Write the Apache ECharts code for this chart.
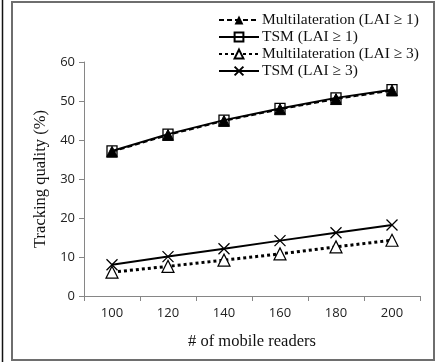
<!DOCTYPE html>
<html><head><meta charset="utf-8">
<script src="https://cdn.jsdelivr.net/npm/echarts@6/dist/echarts.min.js"></script>
<style>html,body{margin:0;padding:0;background:#fff}#c{width:436px;height:362px}</style>
</head><body><div id="c"></div>
<script>
const categories = ['100','120','140','160','180','200'];
const multiLAI1 = [37.0, 41.3, 44.9, 47.9, 50.5, 52.7];
const tsmLAI1 = [37.2, 41.5, 45.1, 48.1, 50.8, 52.9];
const multiLAI3 = [6.1, 7.6, 9.2, 10.8, 12.6, 14.3];
const tsmLAI3 = [8.0, 10.1, 12.1, 14.2, 16.2, 18.2];
const seriesNames = ['Multilateration (LAI \u2265 1)','TSM (LAI \u2265 1)','Multilateration (LAI \u2265 3)','TSM (LAI \u2265 3)'];

const chart = echarts.init(document.getElementById('c'), null, {renderer:'canvas'});
const serif = 'Liberation Serif';
const sans = 'Open Sans';
const axisGray = '#868686';
chart.setOption({
  animation:false,
  backgroundColor:'#fff',
  grid:{left:84, right:16, top:62, bottom:66, containLabel:false},
  legend:{
    orient:'vertical', left:213, top:7, itemWidth:40, itemHeight:11, itemGap:1,
    textStyle:{fontFamily:serif, fontSize:15.5, lineHeight:16, color:'#111', padding:[0,0,0,-2]},
    data: seriesNames
  },
  xAxis:{
    type:'category', data:categories, boundaryGap:true,
    name:'# of mobile readers', nameLocation:'middle', nameGap:37,
    nameTextStyle:{fontFamily:serif, fontSize:16.5, color:'#111'},
    axisLine:{lineStyle:{color:axisGray, width:1}},
    axisTick:{show:true, alignWithLabel:false, length:5, lineStyle:{color:axisGray}},
    axisLabel:{fontFamily:sans, fontSize:13, color:'#222', margin:11}
  },
  yAxis:{
    type:'value', min:0, max:60, interval:10,
    name:'Tracking quality (%)', nameLocation:'middle', nameGap:28,
    nameTextStyle:{fontFamily:serif, fontSize:16.5, color:'#111'},
    axisLine:{show:true, lineStyle:{color:axisGray, width:1}},
    axisTick:{show:true, length:5, lineStyle:{color:axisGray}},
    splitLine:{show:false},
    axisLabel:{fontFamily:sans, fontSize:13, color:'#222', margin:9}
  },
  graphic:[
    {type:'rect', shape:{x:12, y:2, width:422, height:358}, style:{fill:'none', stroke:'#6e6e6e', lineWidth:2}, z:100},
    {type:'line', shape:{x1:2.5, y1:0, x2:2.5, y2:362}, style:{stroke:'#111', lineWidth:1.5}, z:100}
  ],
  series:[
    {name:seriesNames[0], type:'line', data:multiLAI1, symbol:'triangle', symbolSize:11,
     lineStyle:{color:'#000', width:2, type:[5,3]}, itemStyle:{color:'#000', borderColor:'#000'}, z:3},
    {name:seriesNames[1], type:'line', data:tsmLAI1, symbol:'rect', symbolSize:10,
     lineStyle:{color:'#000', width:2}, itemStyle:{color:'rgba(255,255,255,0)', borderColor:'#000', borderWidth:1.3}, z:4},
    {name:seriesNames[2], type:'line', data:multiLAI3, symbol:'triangle', symbolSize:12,
     lineStyle:{color:'#000', width:3, type:[3,3]}, itemStyle:{color:'#fff', borderColor:'#000', borderWidth:1.2}, z:3},
    {name:seriesNames[3], type:'line', data:tsmLAI3, symbol:'path://M0,0L10,10M10,0L0,10', symbolSize:11,
     lineStyle:{color:'#000', width:2}, itemStyle:{color:'#000', borderColor:'#000', borderWidth:1.3}, z:4}
  ]
});
</script></body></html>
